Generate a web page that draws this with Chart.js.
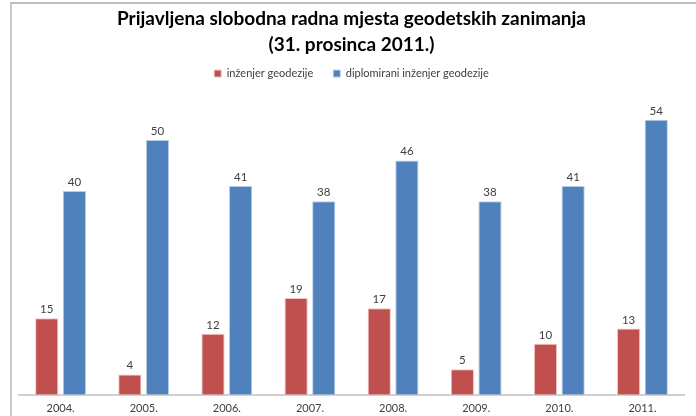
<!DOCTYPE html>
<html>
<head>
<meta charset="utf-8">
<script src="https://cdn.jsdelivr.net/npm/chart.js@4.4.0/dist/chart.umd.min.js"></script>
<style>
    body { margin: 0; background: #fff; }
    #wrap { position: absolute; left: 0; top: 0; width: 696px; height: 416px; }
    #frame {
        position: absolute; left: 10px; top: 2px; width: 684px; height: 420px;
        border-left: 2px solid #cacaca; border-top: 2px solid #bdbdbd;
        pointer-events: none;
    }
</style>
</head>
<body>
<div id="wrap"><canvas id="myChart" width="696" height="416"></canvas></div>
<div id="frame"></div>
<script>
const years = ['2004.', '2005.', '2006.', '2007.', '2008.', '2009.', '2010.', '2011.'];
const inzenjer = [15, 4, 12, 19, 17, 5, 10, 13];
const diplomirani = [40, 50, 41, 38, 46, 38, 41, 54];
const titleLines = ['Prijavljena slobodna radna mjesta geodetskih zanimanja', '(31. prosinca 2011.)'];

// simple value labels above each bar
const valueLabels = {
    id: 'valueLabels',
    afterDatasetsDraw(chart) {
        const ctx = chart.ctx;
        ctx.save();
        ctx.font = '11.5px Lato';
        ctx.fillStyle = '#404040';
        ctx.textAlign = 'center';
        ctx.textBaseline = 'bottom';
        chart.data.datasets.forEach((ds, i) => {
            chart.getDatasetMeta(i).data.forEach((bar, j) => {
                ctx.fillText(ds.data[j], bar.x, bar.y - 3);
            });
        });
        ctx.restore();
    }
};

const ctx = document.getElementById('myChart').getContext('2d');
const myChart = new Chart(ctx, {
    type: 'bar',
    data: {
        labels: years,
        datasets: [{
            label: 'inženjer geodezije',
            data: inzenjer,
            backgroundColor: '#C0504D',
            borderColor: '#f2c4c3',
            borderWidth: 1
        }, {
            label: 'diplomirani inženjer geodezije',
            data: diplomirani,
            backgroundColor: '#4F81BD',
            borderColor: '#b9cde6',
            borderWidth: 1
        }]
    },
    options: {
        responsive: false,
        animation: false,
        layout: { padding: { left: 19, right: 12, top: 6, bottom: 2 } },
        categoryPercentage: 0.665,
        barPercentage: 0.84,
        plugins: {
            title: {
                display: true,
                text: titleLines,
                color: '#000',
                font: { family: 'Lato', size: 19, weight: 'bold', lineHeight: 1.37 },
                padding: { top: 0, bottom: -10 }
            },
            legend: {
                labels: {
                    boxWidth: 7,
                    boxHeight: 7,
                    color: '#404040',
                    font: { family: 'Lato', size: 11 },
                    padding: 20
                }
            },
            tooltip: { enabled: false }
        },
        scales: {
            x: {
                grid: { display: false },
                border: { color: '#d0d0d0', width: 2 },
                ticks: { color: '#404040', font: { family: 'Lato', size: 11 }, padding: -1 }
            },
            y: {
                display: false,
                min: 0,
                max: 60
            }
        }
    },
    plugins: [valueLabels]
});
</script>
</body>
</html>
